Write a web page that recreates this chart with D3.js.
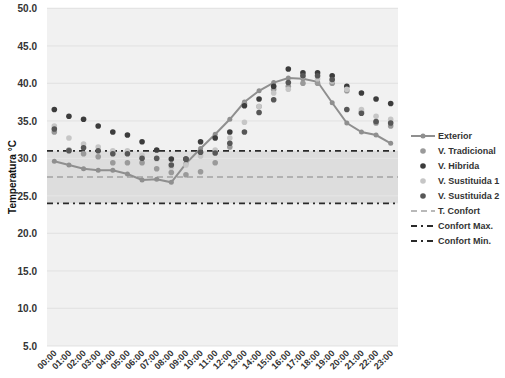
<!DOCTYPE html>
<html>
<head>
<meta charset="utf-8">
<script src="https://d3js.org/d3.v7.min.js"></script>
<style>
  body { margin: 0; background: #fff; }
  text { font-family: "Liberation Sans", Arial, sans-serif; font-weight: bold; }
</style>
</head>
<body>
<svg id="chart" width="505" height="378"></svg>
<script>
// hours on the x axis
let hours = ["00:00","01:00","02:00","03:00","04:00","05:00","06:00","07:00","08:00","09:00","10:00","11:00",
             "12:00","13:00","14:00","15:00","16:00","17:00","18:00","19:00","20:00","21:00","22:00","23:00"]

let exterior      = [29.6,29.1,28.6,28.4,28.4,27.9,27.1,27.2,26.8,29.3,31.3,33.2,35.2,37.5,39.0,40.1,40.7,40.6,40.2,37.4,34.7,33.5,33.1,32.0]
let vTradicional  = [33.5,31.1,30.6,30.2,29.4,29.4,29.4,28.6,28.1,27.8,28.2,29.4,31.5,37.3,36.9,39.2,39.6,40.0,40.0,40.0,39.0,36.2,34.7,34.3]
let vHibrida      = [36.5,35.6,35.2,34.3,33.5,33.1,32.2,31.1,29.9,29.9,32.2,32.7,33.5,37.0,37.9,39.6,41.9,41.4,41.4,41.0,39.6,38.7,37.9,37.3]
let vSustituida1  = [34.3,32.7,31.9,31.5,31.0,31.0,30.4,29.9,28.8,29.1,30.3,31.1,32.7,34.8,36.9,38.7,39.2,40.9,40.6,40.3,39.2,36.5,35.6,35.2]
let vSustituida2  = [33.9,31.0,31.4,31.0,30.6,30.6,30.0,30.0,29.1,29.9,30.8,30.7,32.0,33.5,36.1,37.8,40.1,41.0,41.0,40.5,36.5,36.0,34.9,34.7]

let tConfort = 27.5
let confortMax = 31.0
let confortMin = 24.0

let yTicks = [5,10,15,20,25,30,35,40,45,50]

let scatterSeries = [
  {name: "V. Tradicional", values: vTradicional, color: "#9a9a9a"},
  {name: "V. Hibrida", values: vHibrida, color: "#3c3c3c"},
  {name: "V. Sustituida 1", values: vSustituida1, color: "#c6c6c6"},
  {name: "V. Sustituida 2", values: vSustituida2, color: "#575757"}
]

let svg = d3.select("#chart")
let plotLeft = 47, plotRight = 398, plotTop = 8.3, plotBottom = 345.8
let textColor = "#333333"
let dashDot = "6,4,2,4"

let x = d3.scaleBand()
  .domain(hours)
  .range([plotLeft, plotRight])

let y = d3.scaleLinear()
  .domain([5, 50])
  .range([plotBottom, plotTop])

let cx = d => x(d) + x.bandwidth() / 2

// plot background
svg.append("rect")
  .attr("x", plotLeft)
  .attr("y", y(50))
  .attr("width", plotRight - plotLeft)
  .attr("height", y(5) - y(50))
  .style("fill", "#f1f1f1")

// comfort band
svg.append("rect")
  .attr("x", plotLeft)
  .attr("y", y(confortMax))
  .attr("width", plotRight - plotLeft)
  .attr("height", y(confortMin) - y(confortMax))
  .style("fill", "#dddddd")

// gridlines
svg.append("g")
  .selectAll("line")
  .data(yTicks)
  .enter()
  .append("line")
  .attr("x1", plotLeft)
  .attr("x2", plotRight)
  .attr("y1", d => y(d))
  .attr("y2", d => y(d))
  .style("stroke", "#e4e4e4")
  .style("stroke-width", 1.2)

// y axis labels
let yAxis = svg.append("g")
  .attr("transform", "translate(" + (plotLeft - 7) + ",0)")
  .call(d3.axisLeft(y).tickValues(yTicks).tickFormat(d3.format(".1f")).tickSize(0))
yAxis.select(".domain").remove()
yAxis.selectAll("text")
  .style("font-family", "Liberation Sans, Arial, sans-serif")
  .style("font-weight", "bold")
  .style("font-size", "10px")
  .style("fill", textColor)

// x axis labels
let xAxis = svg.append("g")
  .attr("transform", "translate(0," + (plotBottom + 5) + ")")
  .call(d3.axisBottom(x).tickSize(0))
xAxis.select(".domain").remove()
xAxis.selectAll("text")
  .attr("dy", null)
  .attr("y", 0)
  .attr("x", 0)
  .attr("transform", "translate(3,3) rotate(-45)")
  .style("text-anchor", "end")
  .style("font-family", "Liberation Sans, Arial, sans-serif")
  .style("font-weight", "bold")
  .style("font-size", "9px")
  .style("fill", textColor)

// y title
svg.append("text")
  .attr("transform", "translate(16," + ((plotTop + plotBottom) / 2) + ") rotate(-90)")
  .style("text-anchor", "middle")
  .style("font-size", "10px")
  .style("fill", "#111")
  .text("Temperatura °C")

// reference lines
svg.append("line")
  .attr("x1", plotLeft).attr("x2", plotRight)
  .attr("y1", y(tConfort)).attr("y2", y(tConfort))
  .style("stroke", "#a3a3a3")
  .style("stroke-width", 1.5)
  .style("stroke-dasharray", "6,4")

svg.selectAll(".conf_lines")
  .data([confortMax, confortMin])
  .enter()
  .append("line")
  .attr("class", "conf_lines")
  .attr("x1", plotLeft).attr("x2", plotRight)
  .attr("y1", d => y(d)).attr("y2", d => y(d))
  .style("stroke", "#2a2a2a")
  .style("stroke-width", 1.8)
  .style("stroke-dasharray", dashDot)

// exterior line
svg.append("path")
  .datum(exterior)
  .attr("fill", "none")
  .attr("stroke", "#8f8f8f")
  .attr("stroke-width", 2)
  .attr("d", d3.line()
    .x((d, i) => cx(hours[i]))
    .y(d => y(d)))

svg.append("g")
  .selectAll("circle")
  .data(exterior)
  .enter()
  .append("circle")
  .attr("cx", (d, i) => cx(hours[i]))
  .attr("cy", d => y(d))
  .attr("r", 2.5)
  .style("fill", "#8f8f8f")

// scatter series
scatterSeries.forEach(function(s) {
  svg.append("g")
    .selectAll("circle")
    .data(s.values)
    .enter()
    .append("circle")
    .attr("cx", (d, i) => cx(hours[i]))
    .attr("cy", d => y(d))
    .attr("r", 2.8)
    .style("fill", s.color)
})

// legend
let legendX = 411, legendY = 136, legendStep = 15
let legend = svg.append("g")

let items = [
  {name: "Exterior", type: "exterior"},
  {name: scatterSeries[0].name, type: "dot", color: scatterSeries[0].color},
  {name: scatterSeries[1].name, type: "dot", color: scatterSeries[1].color},
  {name: scatterSeries[2].name, type: "dot", color: scatterSeries[2].color},
  {name: scatterSeries[3].name, type: "dot", color: scatterSeries[3].color},
  {name: "T. Confort", type: "dash"},
  {name: "Confort Max.", type: "dashdot"},
  {name: "Confort Min.", type: "dashdot"}
]

items.forEach(function(d, i) {
  let ly = legendY + i * legendStep
  if (d.type == "exterior") {
    legend.append("line")
      .attr("x1", legendX).attr("x2", legendX + 24)
      .attr("y1", ly).attr("y2", ly)
      .style("stroke", "#8f8f8f").style("stroke-width", 2)
    legend.append("circle")
      .attr("cx", legendX + 12).attr("cy", ly).attr("r", 2.5)
      .style("fill", "#8f8f8f")
  } else if (d.type == "dot") {
    legend.append("circle")
      .attr("cx", legendX + 12).attr("cy", ly).attr("r", 2.8)
      .style("fill", d.color)
  } else if (d.type == "dash") {
    legend.append("line")
      .attr("x1", legendX).attr("x2", legendX + 24)
      .attr("y1", ly).attr("y2", ly)
      .style("stroke", "#a3a3a3").style("stroke-width", 1.5)
      .style("stroke-dasharray", "6,4")
  } else {
    legend.append("line")
      .attr("x1", legendX).attr("x2", legendX + 24)
      .attr("y1", ly).attr("y2", ly)
      .style("stroke", "#2a2a2a").style("stroke-width", 1.8)
      .style("stroke-dasharray", dashDot)
  }
  legend.append("text")
    .attr("x", legendX + 27)
    .attr("y", ly + 3.2)
    .text(d.name)
    .style("font-size", "9px")
    .style("fill", textColor)
})
</script>
</body>
</html>
